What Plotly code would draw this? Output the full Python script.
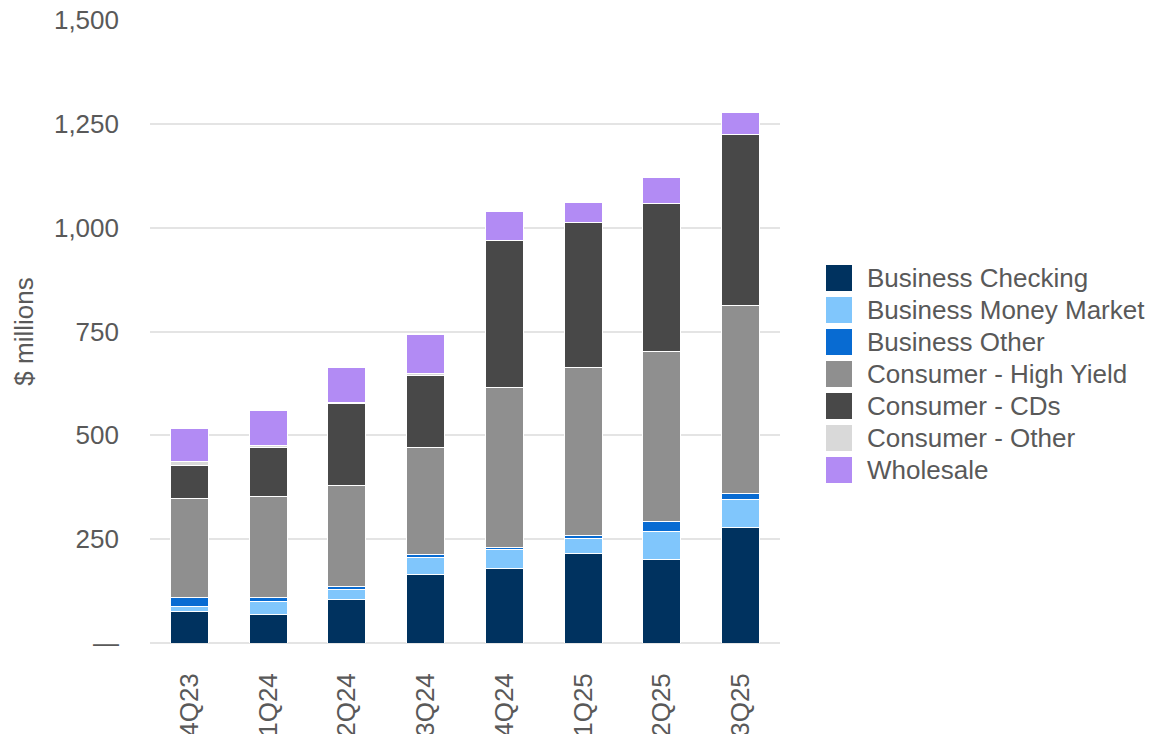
import plotly.graph_objects as go

quarters = ["4Q23", "1Q24", "2Q24", "3Q24", "4Q24", "1Q25", "2Q25", "3Q25"]

business_checking = [75, 69, 104, 166, 180, 215, 200, 277]
business_money_market = [14, 30, 24, 39, 44, 37, 68, 68]
business_other = [21, 10, 9, 9, 6, 6, 24, 14]
consumer_high_yield = [239, 244, 242, 257, 384, 406, 410, 454]
consumer_cds = [78, 117, 197, 173, 354, 348, 357, 412]
consumer_other = [9, 5, 3, 6, 0, 0, 0, 0]
wholesale = [81, 86, 85, 92, 72, 48, 63, 52]

series_names = [
    "Business Checking",
    "Business Money Market",
    "Business Other",
    "Consumer - High Yield",
    "Consumer - CDs",
    "Consumer - Other",
    "Wholesale",
]
series_values = [
    business_checking,
    business_money_market,
    business_other,
    consumer_high_yield,
    consumer_cds,
    consumer_other,
    wholesale,
]
series_colors = ["#00325f", "#80c6fc", "#086bd2", "#8f8f8f", "#484848", "#d9d9d9", "#b28bf4"]

y_ticks = [0, 250, 500, 750, 1000, 1250, 1500]
y_tick_labels = ["—", "250", "500", "750", "1,000", "1,250", "1,500"]

FONT = "Liberation Sans, Arial, sans-serif"
TEXT = "#595959"
FS = 26

W, H = 1152, 734
ML, MR, MT, MB = 150, 372, 20, 91
plot_w = W - ML - MR
plot_h = H - MT - MB

fig = go.Figure()
for name, vals, col in zip(series_names, series_values, series_colors):
    fig.add_trace(go.Bar(
        x=quarters, y=vals, name=name,
        marker=dict(color=col, line=dict(color="white", width=1)),
        showlegend=False,
    ))

# legend drawn as squares + labels to the right of the plot
shapes, annotations = [], []
box = 26
row = 32
first_center = 278
for i, (name, col) in enumerate(zip(series_names, series_colors)):
    cy = first_center + i * row
    x0 = (826 - ML) / plot_w
    x1 = (826 + box - ML) / plot_w
    y0 = (MT + plot_h - (cy + box / 2)) / plot_h
    y1 = (MT + plot_h - (cy - box / 2)) / plot_h
    shapes.append(dict(type="rect", xref="paper", yref="paper",
                       x0=x0, x1=x1, y0=y0, y1=y1,
                       fillcolor=col, line=dict(width=0)))
    annotations.append(dict(xref="paper", yref="paper",
                            x=(865 - ML) / plot_w,
                            y=(MT + plot_h - cy) / plot_h,
                            text=name, showarrow=False,
                            xanchor="left", yanchor="middle",
                            font=dict(family=FONT, size=FS, color=TEXT)))

fig.update_layout(
    width=W, height=H,
    margin=dict(l=ML, r=MR, t=MT, b=MB, autoexpand=False),
    barmode="stack",
    bargap=0.52,
    plot_bgcolor="white",
    paper_bgcolor="white",
    font=dict(family=FONT, size=FS, color=TEXT),
    shapes=shapes,
    annotations=annotations,
)
fig.update_xaxes(
    tickangle=-90,
    tickfont=dict(family=FONT, size=FS, color=TEXT),
    showgrid=False, showline=False, ticks="",
    ticklabelstandoff=24,
    automargin=False,
)
fig.update_yaxes(
    range=[0, 1500],
    tickvals=y_ticks, ticktext=y_tick_labels,
    tickfont=dict(family=FONT, size=FS, color=TEXT),
    showgrid=True, gridcolor="#e4e4e4", gridwidth=1.5,
    zeroline=True, zerolinecolor="#e4e4e4", zerolinewidth=1.5,
    showline=False, ticks="",
    ticklabelstandoff=30,
    automargin=False,
    title=dict(text="$ millions", font=dict(family=FONT, size=FS, color=TEXT), standoff=12),
)

fig.write_html("out.html")
